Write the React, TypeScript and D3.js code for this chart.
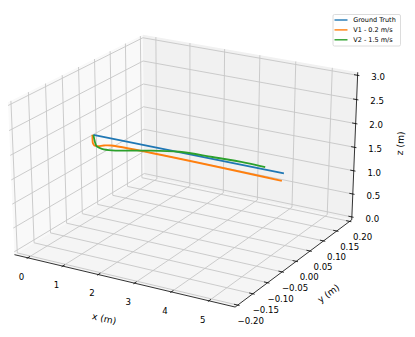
import * as d3 from "d3";
import React from "react";

// axis limits and ticks
const xLim = [-0.265, 5.565];
const yLim = [-0.2, 0.2];
const zLim = [0, 3];
const xTicks = [0, 1, 2, 3, 4, 5];
const yTicks = [-0.2, -0.15, -0.1, -0.05, 0, 0.05, 0.1, 0.15, 0.2];
const zTicks = [0, 0.5, 1, 1.5, 2, 2.5, 3];

// trajectories (metres)
const gtX = [0, 5.3];
const gtY = [0, 0];
const gtZ = [1.7, 1.7];

const v1X = [-0.03, -0.03, -0.02, 0.02, 0.12, 0.3, 0.5, 5.25];
const v1Y = [0, 0, 0, 0, 0, 0, 0, 0];
const v1Z = [1.7, 1.6, 1.52, 1.48, 1.48, 1.52, 1.55, 1.54];

const v2X = [0, 0.02, 0.05, 0.09, 0.24, 0.53, 0.9, 1.49, 2.45, 3.37, 4.28, 4.8];
const v2Y = [0, 0, 0, 0, 0, 0, 0, 0, 0, 0, 0, 0];
const v2Z = [1.7, 1.62, 1.53, 1.47, 1.44, 1.45, 1.5, 1.59, 1.71, 1.74, 1.76, 1.75];

const series = [
  { name: "Ground Truth", color: "#1f77b4", xs: gtX, ys: gtY, zs: gtZ },
  { name: "V1 - 0.2 m/s", color: "#ff7f0e", xs: v1X, ys: v1Y, zs: v1Z },
  { name: "V2 - 1.5 m/s", color: "#2ca02c", xs: v2X, ys: v2Y, zs: v2Z },
];

// camera (matplotlib-like perspective)
const elev = (24 * Math.PI) / 180;
const azim = (-60 * Math.PI) / 180;
const dist = 10;
const aspect = [8 / 7, 8 / 7, 6 / 7];

const nx = d3.scaleLinear().domain(xLim).range([-aspect[0] / 2, aspect[0] / 2]);
const ny = d3.scaleLinear().domain(yLim).range([-aspect[1] / 2, aspect[1] / 2]);
const nz = d3.scaleLinear().domain(zLim).range([-aspect[2] / 2, aspect[2] / 2]);

const wv = [Math.cos(elev) * Math.cos(azim), Math.cos(elev) * Math.sin(azim), Math.sin(elev)];
const uv = [-Math.sin(azim), Math.cos(azim), 0];
const vv = [-Math.sin(elev) * Math.cos(azim), -Math.sin(elev) * Math.sin(azim), Math.cos(elev)];
const dot = (a: number[], b: number[]) => a[0] * b[0] + a[1] * b[1] + a[2] * b[2];

const sx = d3.scaleLinear().domain([-0.1, 0.1]).range([186.4 - 211.1, 186.4 + 211.1]);
const sy = d3.scaleLinear().domain([-0.1, 0.1]).range([163.3 + 183.7, 163.3 - 183.7]);

function project(x: number, y: number, z: number): [number, number] {
  const q = [nx(x), ny(y), nz(z)];
  const d = dist - dot(wv, q);
  return [sx(dot(uv, q) / d), sy(dot(vv, q) / d)];
}

// pane extents (limits padded by 1/48 of range)
const pad = (l: number[]) => [l[0] - (l[1] - l[0]) / 48, l[1] + (l[1] - l[0]) / 48];
const xP = pad(xLim);
const yP = pad(yLim);
const zP = pad(zLim);
const dx = (xLim[1] - xLim[0]) / 12;
const dy = (yLim[1] - yLim[0]) / 12;

const FONT = "DejaVu Sans, sans-serif";
const GRID = "#c6c6c6";

function poly(pts: [number, number, number][]) {
  return pts.map((p) => project(p[0], p[1], p[2]).join(",")).join(" ");
}

function seg(a: [number, number, number], b: [number, number, number]) {
  const p = project(a[0], a[1], a[2]);
  const q = project(b[0], b[1], b[2]);
  return { x1: p[0], y1: p[1], x2: q[0], y2: q[1] };
}

const fmtMinus = (s: string) => s.replace("-", "\u2212");

export default function App() {
  const line = d3.line<[number, number]>().curve(d3.curveCatmullRom.alpha(0.5));

  const xAxisEnds = seg([xP[0], yP[0], zP[0]], [xP[1], yP[0], zP[0]]);
  const yAxisEnds = seg([xP[1], yP[0], zP[0]], [xP[1], yP[1], zP[0]]);
  const zAxisEnds = seg([xP[1], yP[1], zP[0]], [xP[1], yP[1], zP[1]]);

  return (
    <svg width={415} height={337} style={{ position: "absolute", left: 0, top: 0 }} fontFamily={FONT}>
      <rect width={415} height={337} fill="#fff" />
      {/* panes */}
      <polygon points={poly([[xP[0], yP[0], zP[0]], [xP[0], yP[1], zP[0]], [xP[0], yP[1], zP[1]], [xP[0], yP[0], zP[1]]])} fill="#f9f9f9" />
      <polygon points={poly([[xP[0], yP[1], zP[0]], [xP[1], yP[1], zP[0]], [xP[1], yP[1], zP[1]], [xP[0], yP[1], zP[1]]])} fill="#f1f1f1" />
      <polygon points={poly([[xP[0], yP[0], zP[0]], [xP[1], yP[0], zP[0]], [xP[1], yP[1], zP[0]], [xP[0], yP[1], zP[0]]])} fill="#f5f5f5" />

      {/* grid */}
      <g stroke={GRID} strokeWidth={0.9}>
        {xTicks.map((t) => (
          <g key={"gx" + t}>
            <line {...seg([t, yP[1], zP[0]], [t, yP[1], zP[1]])} />
            <line {...seg([t, yP[0], zP[0]], [t, yP[1], zP[0]])} />
          </g>
        ))}
        {yTicks.map((t) => (
          <g key={"gy" + t}>
            <line {...seg([xP[0], t, zP[0]], [xP[0], t, zP[1]])} />
            <line {...seg([xP[0], t, zP[0]], [xP[1], t, zP[0]])} />
          </g>
        ))}
        {zTicks.map((t) => (
          <g key={"gz" + t}>
            <line {...seg([xP[0], yP[0], t], [xP[0], yP[1], t])} />
            <line {...seg([xP[0], yP[1], t], [xP[1], yP[1], t])} />
          </g>
        ))}
      </g>

      {/* axis lines and ticks */}
      <g stroke="#000" strokeWidth={0.8}>
        <line {...xAxisEnds} />
        <line {...yAxisEnds} />
        <line {...zAxisEnds} />
        {xTicks.map((t) => (
          <line key={"tx" + t} {...seg([t, yP[0] - 0.1 * dy, zP[0]], [t, yP[0] + 0.2 * dy, zP[0]])} />
        ))}
        {yTicks.map((t) => (
          <line key={"ty" + t} {...seg([xP[1] + 0.1 * dx, t, zP[0]], [xP[1] - 0.2 * dx, t, zP[0]])} />
        ))}
        {zTicks.map((t) => (
          <line key={"tz" + t} {...seg([xP[1] + 0.1 * dx, yP[1], t], [xP[1] - 0.2 * dx, yP[1], t])} />
        ))}
      </g>

      {/* data */}
      {series.map((s) => (
        <path
          key={s.name}
          d={line(s.xs.map((x, i) => project(x, s.ys[i], s.zs[i]))) || ""}
          fill="none"
          stroke={s.color}
          strokeWidth={1.8}
          strokeLinejoin="round"
          strokeLinecap="butt"
        />
      ))}

      {/* tick labels */}
      <g fontSize={8.6} fill="#000" textAnchor="middle" dominantBaseline="central">
        {xTicks.map((t) => {
          const p = project(t, yP[0], zP[0]);
          return (
            <text key={"lx" + t} x={p[0] - 6.3} y={p[1] + 18.7}>
              {d3.format("d")(t)}
            </text>
          );
        })}
        {yTicks.map((t) => {
          const p = project(xP[1], t, zP[0]);
          return (
            <text key={"ly" + t} x={p[0] + 13} y={p[1] + 16}>
              {fmtMinus(d3.format(".2f")(t))}
            </text>
          );
        })}
        {zTicks.map((t) => {
          const p = project(xP[1], yP[1], t);
          return (
            <text key={"lz" + t} x={p[0] + 20.5} y={p[1] + 1.7}>
              {d3.format(".1f")(t)}
            </text>
          );
        })}
      </g>

      {/* axis labels */}
      <g fontSize={9.2} fill="#000" textAnchor="middle" dominantBaseline="central">
        <text transform="translate(104.3,318.3) rotate(12.7)">x (m)</text>
        <text transform="translate(328.3,293.3) rotate(-36)">y (m)</text>
        <text transform="translate(400,143.3) rotate(-87)">z (m)</text>
      </g>

      {/* legend */}
      <g>
        <rect x={333} y={14.5} width={67.5} height={31.5} rx={1.5} fill="#fff" fillOpacity={0.8} stroke="#d3d3d3" strokeWidth={0.8} />
        {series.map((s, i) => (
          <g key={"lg" + s.name} transform={`translate(0,${20 + i * 9.9})`}>
            <line x1={334.5} x2={347.5} y1={0} y2={0} stroke={s.color} strokeWidth={1.4} />
            <text x={353.3} y={0} fontSize={6.5} dominantBaseline="central" fill="#000">
              {s.name}
            </text>
          </g>
        ))}
      </g>
    </svg>
  );
}
